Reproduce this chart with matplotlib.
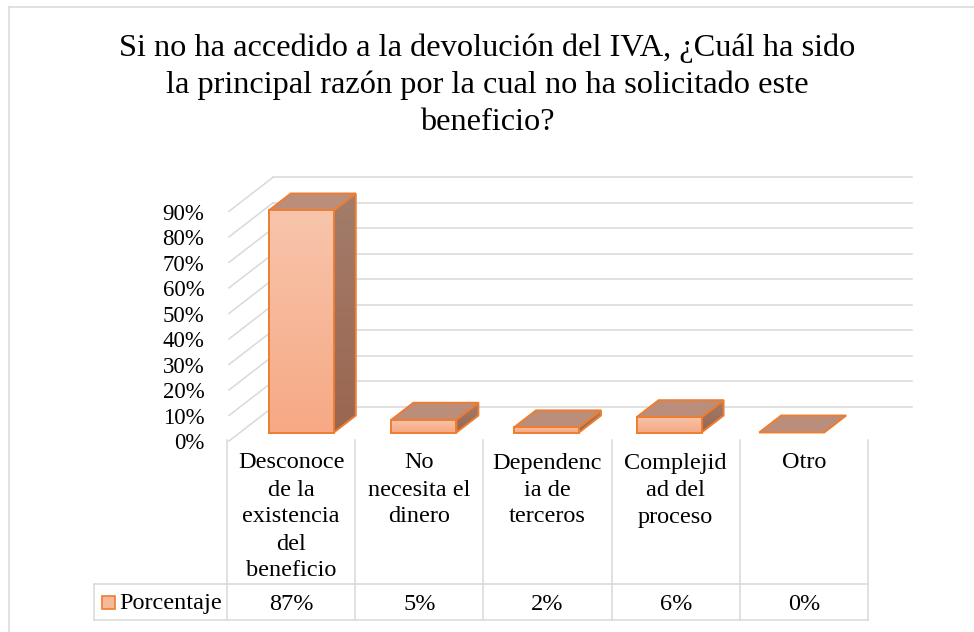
import numpy as np
import matplotlib.pyplot as plt
from matplotlib.patches import Polygon, Rectangle
from matplotlib.lines import Line2D
from matplotlib.colors import LinearSegmentedColormap

plt.rcParams['font.family'] = ['Liberation Serif', 'DejaVu Serif']

# datos
titulo = ["Si no ha accedido a la devolución del IVA, ¿Cuál ha sido",
          "la principal razón por la cual no ha solicitado este",
          "beneficio?"]
categorias = [["Desconoce", "de la", "existencia", "del", "beneficio"],
              ["No", "necesita el", "dinero"],
              ["Dependenc", "ia de", "terceros"],
              ["Complejid", "ad del", "proceso"],
              ["Otro"]]
porcentajes = [87, 5, 2, 6, 0]
etiquetas = ["87%", "5%", "2%", "6%", "0%"]
serie = "Porcentaje"
ticks_y = list(range(0, 100, 10))

# colores
gris = "#D9D9D9"
borde = "#ED7D31"
frente = LinearSegmentedColormap.from_list("frente", ["#F8C5AC", "#F6A984"])
lado = LinearSegmentedColormap.from_list("lado", ["#A37D6B", "#9A6650"])
techo = "#BA8E7A"

W, H = 974, 632
fig = plt.figure(figsize=(W / 100, H / 100), dpi=100)


def fx(x):
    return x / W


def fy(y):
    return 1 - y / H


def linea(x, y, **kw):
    fig.add_artist(Line2D([fx(v) for v in x], [fy(v) for v in y],
                          transform=fig.transFigure, color=gris, lw=1.1, **kw))


# marco del grafico
linea([9, 9], [7, 632])
linea([9, 974], [7, 7])

# ejes "3D" (escala en pixeles)
X0, Y0 = 229.0, 441.0
PXC = 122.6     # px por categoria
PXP = 2.552     # px por punto porcentual
xmin, xmax = -0.3, 5.7
ymin, ymax = -3, 108
ax = fig.add_axes([fx(X0 + xmin * PXC), fy(Y0 - ymin * PXP),
                   (xmax - xmin) * PXC / W, (ymax - ymin) * PXP / H])
ax.axis('off')

DX = 44 / PXC   # profundidad
DY = 34 / PXP
XW = (868 - X0) / PXC
BW = 0.53

# paredes
for v in ticks_y:
    ax.plot([0, DX], [v, v + DY], color=gris, lw=1.1, zorder=1)
    ax.plot([DX, XW + DX], [v + DY, v + DY], color=gris, lw=1.1, zorder=1)
    ax.text(-0.2, v - 1.1, f"{v}%", ha='right', va='center', fontsize=16.5)

grad = np.linspace(0, 1, 256).reshape(-1, 1)

# barras
for i, v in enumerate(porcentajes):
    x0 = i + 0.5 - BW / 2 + 0.25 * DX
    x1 = x0 + BW
    y0 = 0.25 * DY
    y1 = y0 + v
    z = 3 + i
    if v > 0:
        pl = Polygon([(x1, y0), (x1, y1), (x1 + DX / 2, y1 + DY / 2), (x1 + DX / 2, y0 + DY / 2)],
                     closed=True, transform=ax.transData)
        im = ax.imshow(grad, cmap=lado, extent=[x1, x1 + DX / 2, y0, y1 + DY / 2],
                       aspect='auto', zorder=z)
        im.set_clip_path(pl)
        ax.add_patch(Polygon(pl.get_xy(), closed=True, fill=False, ec=borde, lw=1.4, zorder=z + 0.1))
    ax.add_patch(Polygon([(x0, y1), (x1, y1), (x1 + DX / 2, y1 + DY / 2), (x0 + DX / 2, y1 + DY / 2)],
                         closed=True, fc=techo, ec=borde, lw=1.4, zorder=z + 0.2))
    if v > 0:
        ax.imshow(grad, cmap=frente, extent=[x0, x1, y0, y1], aspect='auto', zorder=z + 0.3)
        ax.add_patch(Rectangle((x0, y0), BW, v, fill=False, ec=borde, lw=1.4, zorder=z + 0.4))

ax.set_xlim(xmin, xmax)
ax.set_ylim(ymin, ymax)

# titulo
for k, t in enumerate(titulo):
    fig.text(fx(487), fy(48 + k * 37.5), t, ha='center', va='center', fontsize=23.3)

# tabla de datos
CX0, CW = 227.0, 128.2
for k in range(len(porcentajes) + 1):
    linea([CX0 + k * CW] * 2, [440, 620])
linea([94, 94], [584, 620])
linea([94, CX0 + 5 * CW], [584, 584])
linea([94, CX0 + 5 * CW], [620, 620])

for k, lineas in enumerate(categorias):
    cx = CX0 + (k + 0.5) * CW
    for j, t in enumerate(lineas):
        fig.text(fx(cx), fy(463 + j * 27), t, ha='center', va='center', fontsize=17.5)
    fig.text(fx(cx), fy(604), etiquetas[k], ha='center', va='center', fontsize=17.5)

fig.add_artist(Rectangle((fx(102), fy(609)), 13 / W, 13 / H, transform=fig.transFigure,
                         fc="#F8B99A", ec=borde, lw=1.2))
fig.text(fx(119), fy(604), serie, ha='left', va='center', fontsize=17.5)

fig.savefig("out.png", dpi=100)
